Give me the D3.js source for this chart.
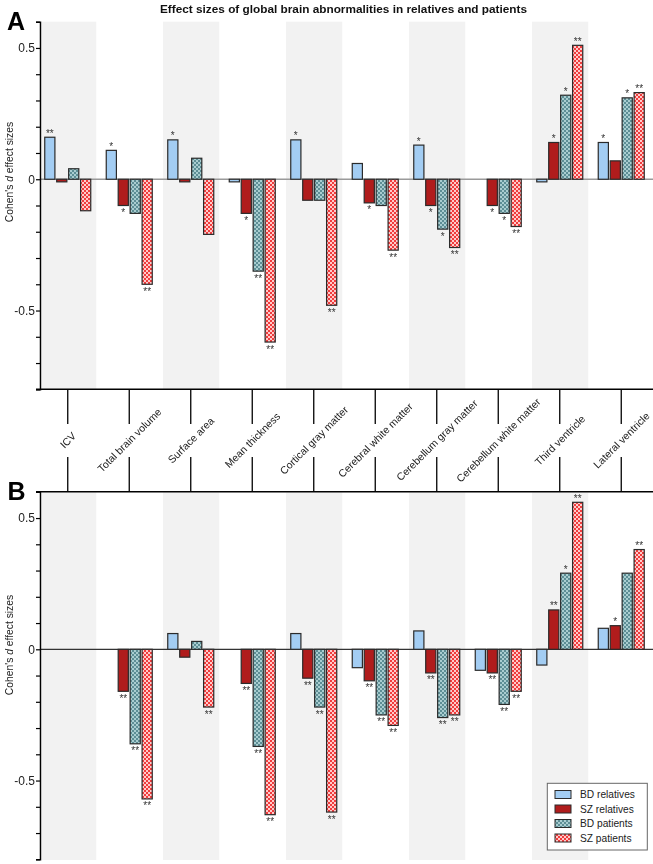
<!DOCTYPE html>
<html><head><meta charset="utf-8">
<script src="https://cdn.jsdelivr.net/npm/d3@7"></script>
<style>body{margin:0;background:#fff} svg{display:block;font-family:"Liberation Sans",Arial,sans-serif;opacity:0.999}</style>
</head><body><svg id="c" width="653" height="864"></svg>
<script>
const categories = ["ICV","Total brain volume","Surface area","Mean thickness","Cortical gray matter","Cerebral white matter","Cerebellum gray matter","Cerebellum white matter","Third ventricle","Lateral ventricle"];
const seriesNames = ["BD relatives","SZ relatives","BD patients","SZ patients"];
const titleText = "Effect sizes of global brain abnormalities in relatives and patients";
// Panel A values
const aBDrel = [0.16, 0.11, 0.15, -0.01, 0.15, 0.06, 0.13, null, -0.01, 0.14];
const aSZrel = [-0.01, -0.10, -0.01, -0.13, -0.08, -0.09, -0.10, -0.10, 0.14, 0.07];
const aBDpat = [0.04, -0.13, 0.08, -0.35, -0.08, -0.10, -0.19, -0.13, 0.32, 0.31];
const aSZpat = [-0.12, -0.40, -0.21, -0.62, -0.48, -0.27, -0.26, -0.18, 0.51, 0.33];
const aBDrelSig = ["**","*","*","","*","","*","","","*"];
const aSZrelSig = ["","*","","*","","*","*","*","*",""];
const aBDpatSig = ["","","","**","","","*","*","*","*"];
const aSZpatSig = ["","**","","**","**","**","**","**","**","**"];
// Panel B values
const bBDrel = [null, null, 0.06, null, 0.06, -0.07, 0.07, -0.08, -0.06, 0.08];
const bSZrel = [null, -0.16, -0.03, -0.13, -0.11, -0.12, -0.09, -0.09, 0.15, 0.09];
const bBDpat = [null, -0.36, 0.03, -0.37, -0.22, -0.25, -0.26, -0.21, 0.29, 0.29];
const bSZpat = [null, -0.57, -0.22, -0.63, -0.62, -0.29, -0.25, -0.16, 0.56, 0.38];
const bBDrelSig = ["","","","","","","","","",""];
const bSZrelSig = ["","**","","**","**","**","**","**","**","*"];
const bBDpatSig = ["","**","","**","**","**","**","**","*",""];
const bSZpatSig = ["","**","**","**","**","**","**","**","**","**"];
const yDomain = [-0.8, 0.6];
const yTickValues = [-0.8,-0.7,-0.6,-0.5,-0.4,-0.3,-0.2,-0.1,0,0.1,0.2,0.3,0.4,0.5,0.6];
const yLabelValues = [-0.5, 0, 0.5];

const svg = d3.select("#c");
const defs = svg.append("defs");
function checker(id, base, alt){
  const p = defs.append("pattern").attr("id", id).attr("patternUnits","userSpaceOnUse")
    .attr("width",4).attr("height",4);
  p.append("rect").attr("width",4).attr("height",4).attr("fill",base);
  p.append("rect").attr("width",2).attr("height",2).attr("fill",alt);
  p.append("rect").attr("x",2).attr("y",2).attr("width",2).attr("height",2).attr("fill",alt);
}
checker("pBD", "#5d8e95", "#a9cdd0");
checker("pSZ", "#f03c3c", "#ffcaca");
const fills = ["#a3cdf3", "#b01c1c", "url(#pBD)", "url(#pSZ)"];
const legendFills = fills;

const x = d3.scaleBand().domain(categories).range([37, 652]).padding(0);
const xi = d3.scaleBand().domain(seriesNames).range([-23, 23]).paddingInner(0.15);

function panel(y, vals, sigs, zeroColor, bandTop, bandBottom){
  const g = svg.append("g");
  g.selectAll("rect.band").data(categories.filter((d,i)=>i%2===0)).join("rect")
    .attr("x", d => Math.max(42, x(d) + x.bandwidth()/2 - 27.7))
    .attr("width", d => x(d) + x.bandwidth()/2 + 28.5 - Math.max(42, x(d) + x.bandwidth()/2 - 27.7))
    .attr("y", bandTop).attr("height", bandBottom - bandTop).attr("fill", "#f2f2f2");
  g.append("line").attr("x1", 40).attr("x2", 653).attr("y1", y(0)).attr("y2", y(0))
    .attr("stroke", zeroColor).attr("stroke-width", 1.3);
  seriesNames.forEach((s, si) => {
    const data = categories.map((c, ci) => ({c, v: vals[si][ci], sig: sigs[si][ci]})).filter(d => d.v !== null);
    g.selectAll(null).data(data).join("rect")
      .attr("x", d => x(d.c) + x.bandwidth()/2 + xi(s))
      .attr("width", xi.bandwidth())
      .attr("y", d => Math.min(y(d.v), y(0)))
      .attr("height", d => Math.abs(y(d.v) - y(0)))
      .attr("fill", fills[si]).attr("stroke", "#2b2b2b").attr("stroke-width", 1.2);
    g.selectAll(null).data(data.filter(d => d.sig)).join("text")
      .attr("x", d => x(d.c) + x.bandwidth()/2 + xi(s) + xi.bandwidth()/2)
      .attr("y", d => d.v >= 0 ? y(d.v) - 0.5 : y(d.v) + 10.5)
      .attr("text-anchor", "middle").attr("font-size", 10).attr("fill", "#333")
      .text(d => d.sig);
  });
  const ax = d3.axisLeft(y).tickValues(yTickValues).tickSize(4)
    .tickFormat(d => yLabelValues.some(v => Math.abs(v - d) < 1e-9) ? (d === 0 ? "0" : d3.format(".1f")(d).replace("−","-")) : "");
  const ag = svg.append("g").attr("transform", "translate(40,0)").call(ax);
  ag.select(".domain").attr("stroke", "#000").attr("stroke-width", 1.5);
  ag.selectAll(".tick line").attr("stroke", "#000").attr("stroke-width", 1.2);
  ag.selectAll(".tick text").attr("font-size", 12).attr("fill", "#222").attr("x", -5)
    .attr("font-family", '"Liberation Sans",Arial,sans-serif');
}

const yA = d3.scaleLinear().domain(yDomain).range([389.3, 21.7]);
const yB = d3.scaleLinear().domain(yDomain).range([859.3, 491.8]);
panel(yA, [aBDrel, aSZrel, aBDpat, aSZpat], [aBDrelSig, aSZrelSig, aBDpatSig, aSZpatSig], "#9a9a9a", 21.7, 389);
panel(yB, [bBDrel, bSZrel, bBDpat, bSZpat], [bBDrelSig, bSZrelSig, bBDpatSig, bSZpatSig], "#333", 492.5, 860);

const mid = svg.append("g");
mid.append("line").attr("x1", 36).attr("x2", 653).attr("y1", 389.3).attr("y2", 389.3).attr("stroke", "#000").attr("stroke-width", 1.5);
mid.append("line").attr("x1", 36).attr("x2", 653).attr("y1", 491.7).attr("y2", 491.7).attr("stroke", "#000").attr("stroke-width", 1.5);
categories.forEach(c => {
  const cx = x(c) + x.bandwidth()/2;
  mid.append("line").attr("x1", cx).attr("x2", cx).attr("y1", 389.3).attr("y2", 424).attr("stroke", "#000").attr("stroke-width", 1.3);
  mid.append("line").attr("x1", cx).attr("x2", cx).attr("y1", 457).attr("y2", 491.7).attr("stroke", "#000").attr("stroke-width", 1.3);
  mid.append("text").attr("transform", `translate(${cx},440) rotate(-45)`)
    .attr("text-anchor", "middle").attr("dominant-baseline", "central")
    .attr("font-size", 10.5).attr("fill", "#222").text(c);
});

svg.append("text").attr("x", 343.5).attr("y", 13).attr("text-anchor", "middle")
  .attr("font-size", 11.8).attr("font-weight", "bold").attr("fill", "#111").text(titleText);
svg.append("text").attr("x", 7).attr("y", 30).attr("font-size", 25).attr("font-weight", "bold").text("A");
svg.append("text").attr("x", 7.5).attr("y", 499.5).attr("font-size", 25).attr("font-weight", "bold").text("B");

function yTitle(cy){
  const t = svg.append("text").attr("transform", `translate(13,${cy}) rotate(-90)`)
    .attr("text-anchor", "middle").attr("font-size", 10.3).attr("fill", "#222");
  t.append("tspan").text("Cohen's ");
  t.append("tspan").attr("font-style", "italic").text("d");
  t.append("tspan").text(" effect sizes");
}
yTitle(172);
yTitle(645);

const lg = svg.append("g");
lg.append("rect").attr("x", 547.3).attr("y", 783.3).attr("width", 100).attr("height", 66.7)
  .attr("fill", "#fff").attr("stroke", "#666").attr("stroke-width", 1);
seriesNames.forEach((s, i) => {
  const cy = 794.5 + i * 14.5;
  lg.append("rect").attr("x", 555).attr("y", cy - 4).attr("width", 16).attr("height", 8)
    .attr("fill", legendFills[i]).attr("stroke", "#2b2b2b").attr("stroke-width", 1);
  lg.append("text").attr("x", 580).attr("y", cy).attr("dominant-baseline", "central")
    .attr("font-size", 10.2).attr("fill", "#222").text(s);
});
</script></body></html>
